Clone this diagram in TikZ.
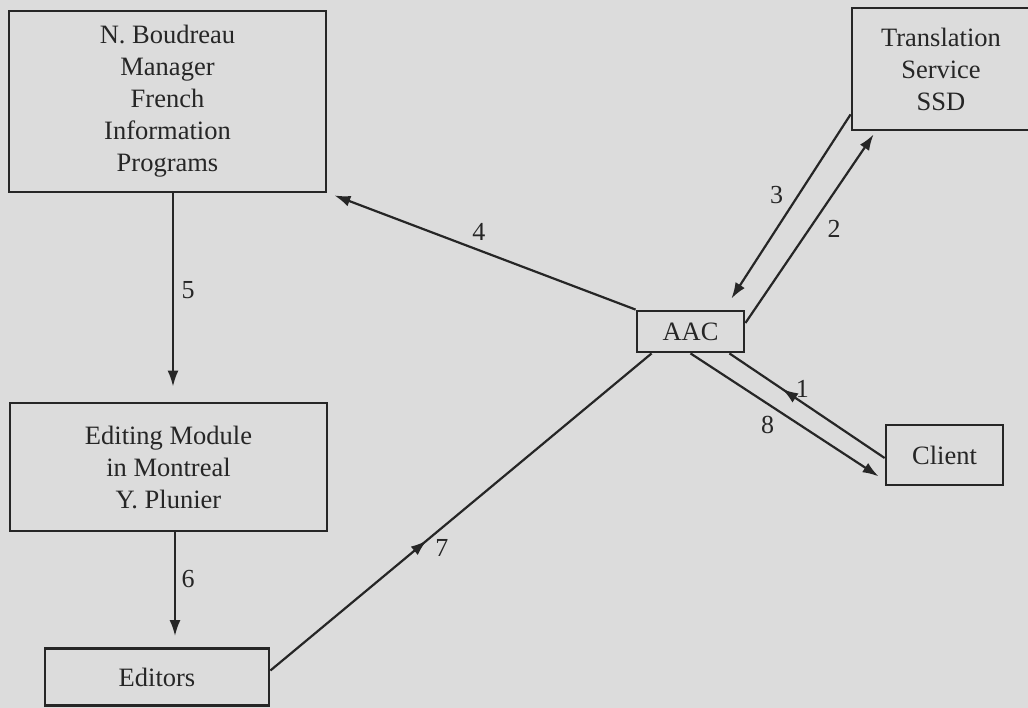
\documentclass[tikz,border=0pt]{standalone}
\usepackage{fontspec}
\setmainfont{Liberation Serif}
\usetikzlibrary{calc}
\usetikzlibrary{arrows.meta}
\usetikzlibrary{decorations.markings}
\tikzset{>={Latex[length=16pt,width=11pt]}}
\definecolor{mybg}{HTML}{DCDCDC}
\colorlet{myink}{black!85}
\tikzset{
  box/.style={draw=myink, line width=2.8pt, align=center, inner sep=0pt,
    font=\fontsize{26.5}{32}\selectfont, text=myink},
  conn/.style={draw=myink, line width=2.2pt},
  midarrow/.style={postaction={decorate, decoration={markings,
    mark=at position #1 with {\arrow{>}}}}},
  num/.style={font=\fontsize{26}{30}\selectfont, text=myink, inner sep=2pt}
}

\begin{document}
\begin{tikzpicture}[x=1pt, y=-1pt]

    \path[use as bounding box, fill=mybg] (0,0) rectangle (1028,708);

    % boxes (positions in pixels of the page)
    \node[box, minimum width=317, minimum height=181] (boud) at (167.5,101.5)
      {N. Boudreau\\Manager\\French\\Information\\Programs};
    \node[box, minimum width=178, minimum height=122] (trans) at (941,69)
      {Translation\\Service\\SSD};
    \node[box, minimum width=317, minimum height=128] (edit) at (168.5,467)
      {Editing Module\\in Montreal\\Y. Plunier};
    \node[box, minimum width=224, minimum height=57] (editors) at (157,677) {Editors};
    \node[box, minimum width=107, minimum height=41] (aac) at (690.5,331.5) {AAC};
    \node[box, minimum width=117, minimum height=60] (client) at (944.5,455) {Client};

    % request and return flow
    \draw[conn, midarrow=0.66] ($(client.west)+(0,3)$) -- node[num, pos=0.53, above=1.5pt] {1} ($(aac.south east)+(-16,0)$);
    \draw[conn, ->] ($(aac.east)+(0,-8.5)$) -- node[num, pos=0.5, right=15pt] {2} ($(trans.south west)+(23,3)$);
    \draw[conn, ->] ($(trans.south west)+(0,-17)$) -- node[num, pos=0.44, left=12pt] {3} ($(aac.north east)+(-14,-11)$);
    \draw[conn, ->] (aac.north west) -- node[num, pos=0.52, above=6.5pt] {4} ($(boud.south east)+(7,2)$);
    \draw[conn, ->] ($(boud.south)+(5.5,0)$) -- node[num, right=5.5pt] {5} ($(edit.north)+(4.5,-15)$);
    \draw[conn, ->] ($(edit.south)+(6.5,0)$) -- node[num, pos=0.45, right=3.5pt] {6} ($(editors.north)+(18,-11)$);
    \draw[conn, midarrow=0.41] ($(editors.east)+(0,-6.5)$) -- node[num, pos=0.45, below=9pt] {7} ($(aac.south west)+(16,0)$);
    \draw[conn, ->] (aac.south) -- node[num, pos=0.41, below=9pt] {8} ($(client.south west)+(-6,-10)$);
\end{tikzpicture}
\end{document}
